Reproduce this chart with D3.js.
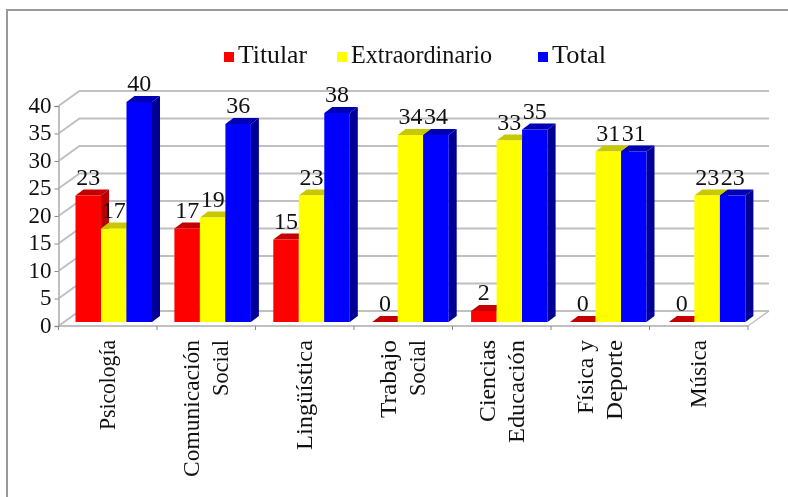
<!DOCTYPE html>
<html>
<head>
<meta charset="utf-8">
<script src="https://d3js.org/d3.v7.min.js"></script>
<style>
html, body { margin: 0; padding: 0; background: #fff; }
text { font-family: "Liberation Serif", serif; fill: #111; }
svg { filter: blur(0.35px); }
</style>
</head>
<body>
<div id="chart"></div>
<script>
const categories = ['Psicología', 'Comunicación|Social', 'Lingüística', 'Trabajo|Social', 'Ciencias|Educación', 'Física y|Deporte', 'Música'];
const seriesNames = ['Titular', 'Extraordinario', 'Total'];
const titular = [23, 17, 15, 0, 2, 0, 0];
const extraordinario = [17, 19, 23, 34, 33, 31, 23];
const total = [40, 36, 38, 34, 35, 31, 23];
const yTicks = [0, 5, 10, 15, 20, 25, 30, 35, 40];

const seriesValues = [titular, extraordinario, total];
const colors = ['#ff0000', '#ffff00', '#0000ff'];
const sideColors = ['#b80000', '#0000a0', '#000096'];
const topColors = ['#c40000', '#c8c800', '#0000b4'];

// the original font is a garamond, so fit each label to its measured length
const labelLengths = {
    'Psicología': 90, 'Comunicación': 137, 'Social': 56, 'Lingüística': 110, 'Trabajo': 78,
    'Ciencias': 82, 'Educación': 103, 'Física y': 74, 'Deporte': 80, 'Música': 68
};
const legendLengths = [69, 141, 54];

const width = 788, height = 497;
const depthX = 21, depthY = 15;      // floor depth of the fake 3d box
const barDepthX = 8, barDepthY = 6;  // depth of each bar

const svg = d3.select('#chart').append('svg')
    .attr('width', width)
    .attr('height', height)
    .style('display', 'block');

// outer frame, only top and left show in the picture
svg.append('path')
    .attr('d', 'M7,497V10H788')
    .attr('fill', 'none')
    .attr('stroke', '#999')
    .attr('stroke-width', 2);

const x = d3.scaleBand().domain(d3.range(categories.length)).range([58.5, 748]);
const xBars = d3.scaleBand().domain(d3.range(categories.length)).range([58, 750.3]);
const y = d3.scaleLinear().domain([0, 40]).range([326, 106]);
const inner = d3.scaleBand().domain(d3.range(3)).range([17.5, 17.5 + 76.5]);

// walls
const grid = svg.append('g').attr('fill', 'none').attr('stroke', '#c0c0c0').attr('stroke-width', 2);
yTicks.forEach(t => {
    grid.append('path').attr('d', `M${x.range()[0]},${y(t)}l${depthX},${-depthY}H${x.range()[1] + depthX}`);
});
// floor
grid.append('path').attr('d', `M${x.range()[1]},${y(0)}l${depthX},${-depthY}`).attr('stroke-width', 1.5);
grid.append('path').attr('d', `M${x.range()[0]},${y(0)}H${x.range()[1]}`);

// y axis
const axisY = svg.append('g').attr('transform', `translate(${x.range()[0]},0)`)
    .call(d3.axisLeft(y).tickValues(yTicks).tickSize(4).tickPadding(3));
axisY.select('.domain').attr('stroke', '#aaa').attr('stroke-width', 1.5);
axisY.selectAll('line').attr('stroke', '#888');
axisY.selectAll('text').style('font-size', '23px').attr('dy', '0.28em').attr('fill', null);
axisY.attr('font-family', null);

// x ticks
const tickPos = d3.range(categories.length + 1).map(i => i === categories.length ? x.range()[1] : x(i));
svg.append('g').selectAll('line').data(tickPos).join('line')
    .attr('x1', d => d).attr('x2', d => d)
    .attr('y1', y(0)).attr('y2', y(0) + 4)
    .attr('stroke', '#888');

const h0 = y(0);
const base = h0 - 4;

// bars, drawn red first so blue overlaps
categories.forEach((c, i) => {
    seriesValues.forEach((vals, s) => {
        const bx = xBars(i) + inner(s), bw = inner.bandwidth();
        const top = y(vals[i]) - 4;
        const g = svg.append('g');
        g.append('path')
            .attr('fill', sideColors[s])
            .attr('d', `M${bx + bw},${base}l${barDepthX},${-barDepthY}V${top - barDepthY}l${-barDepthX},${barDepthY}Z`);
        g.append('path')
            .attr('fill', topColors[s])
            .attr('d', `M${bx},${top}l${barDepthX},${-barDepthY}h${bw}l${-barDepthX},${barDepthY}Z`);
        g.append('rect')
            .attr('x', bx).attr('y', top)
            .attr('width', bw).attr('height', Math.max(0, base - top))
            .attr('fill', colors[s]);
    });
});

// value labels
categories.forEach((c, i) => {
    seriesValues.forEach((vals, s) => {
        svg.append('text')
            .attr('x', xBars(i) + inner(s) + inner.bandwidth() / 2)
            .attr('y', y(vals[i]) - 15)
            .attr('text-anchor', 'middle')
            .style('font-size', '24px')
            .text(vals[i]);
    });
});

// category labels, rotated
categories.forEach((c, i) => {
    const lines = c.split('|');
    const cx = x(i) + x.bandwidth() / 2;
    lines.forEach((l, j) => {
        svg.append('text')
            .attr('transform', `translate(${cx + (j - (lines.length - 1) / 2) * 29 + 7.5},${h0 + 14}) rotate(-90)`)
            .attr('text-anchor', 'end')
            .attr('textLength', labelLengths[l])
            .attr('lengthAdjust', 'spacingAndGlyphs')
            .style('font-size', '24px')
            .text(l);
    });
});

// legend
const legendX = [224, 337, 538];
const legend = svg.append('g');
seriesNames.forEach((n, i) => {
    legend.append('rect').attr('x', legendX[i]).attr('y', 52).attr('width', 10).attr('height', 10).attr('fill', colors[i]);
    legend.append('text').attr('x', legendX[i] + 14).attr('y', 63)
        .attr('textLength', legendLengths[i])
        .attr('lengthAdjust', 'spacingAndGlyphs')
        .style('font-size', '25px')
        .text(n);
});
</script>
</body>
</html>
